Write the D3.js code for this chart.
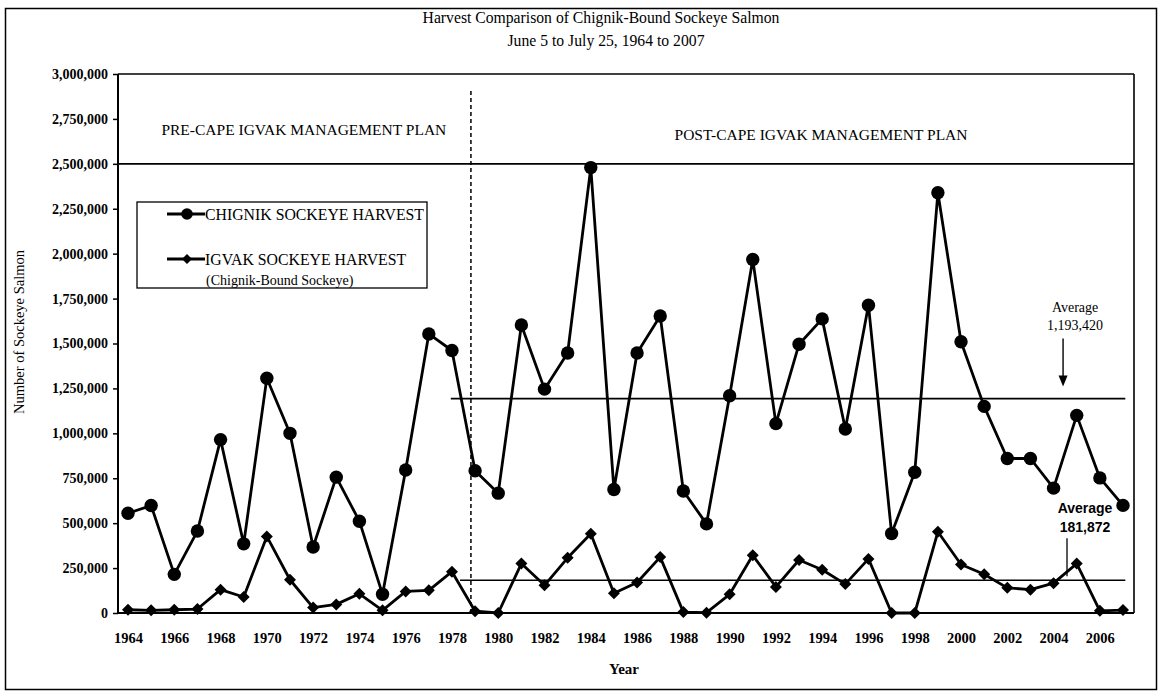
<!DOCTYPE html>
<html><head><meta charset="utf-8">
<script src="https://cdn.jsdelivr.net/npm/d3@7/dist/d3.min.js"></script>
<style>
body{margin:0;background:#fff;}
svg{display:block;}
text{font-family:"Liberation Serif","Times New Roman",serif;fill:#000;}
</style>
</head><body>
<svg id="c" width="1161" height="697"></svg>
<script>
// ---------- data ----------
const years = [1964,1965,1966,1967,1968,1969,1970,1971,1972,1973,1974,1975,1976,1977,1978,1979,1980,1981,1982,1983,1984,1985,1986,1987,1988,1989,1990,1991,1992,1993,1994,1995,1996,1997,1998,1999,2000,2001,2002,2003,2004,2005,2006,2007];
const chignikHarvest = [555000,598000,215000,456000,965000,385000,1307000,1000000,367000,756000,511000,104000,796000,1553000,1461000,792000,667000,1603000,1246000,1447000,2479000,687000,1447000,1653000,679000,496000,1209000,1968000,1054000,1496000,1637000,1024000,1713000,442000,783000,2339000,1510000,1150000,860000,860000,695000,1100000,752000,599000];
const igvakHarvest = [18000,15000,18000,22000,130000,89000,426000,185000,30000,48000,107000,15000,120000,126000,230000,10000,0,275000,154000,307000,441000,110000,170000,311000,5000,2000,104000,321000,145000,295000,241000,161000,301000,0,0,452000,270000,216000,140000,130000,166000,275000,12000,16000];
const yTickValues = [0,250000,500000,750000,1000000,1250000,1500000,1750000,2000000,2250000,2500000,2750000,3000000];
const xTickYears = [1964,1966,1968,1970,1972,1974,1976,1978,1980,1982,1984,1986,1988,1990,1992,1994,1996,1998,2000,2002,2004,2006];
const chignikAverage = 1193420;
const igvakAverage = 181872;
const referenceLevel = 2500000;
const planChangeYear = 1978.82;
const seriesNames = ["CHIGNIK SOCKEYE HARVEST", "IGVAK SOCKEYE HARVEST"];
const titleLines = ["Harvest Comparison of Chignik-Bound Sockeye Salmon", "June 5 to July 25, 1964 to 2007"];

// ---------- layout ----------
const L = 118, R = 1134, T = 74, B = 613;
const svg = d3.select("#c");
const x = d3.scaleLinear().domain([1964, 2007]).range([128, 1123]);
const y = d3.scaleLinear().domain([0, 3000000]).range([B, T]);

// outer border
svg.append("rect").attr("x", 5.5).attr("y", 8.5).attr("width", 1151).attr("height", 681)
  .attr("fill", "none").attr("stroke", "#000").attr("stroke-width", 1.5);

// titles
svg.append("text").attr("x", 601).attr("y", 23).attr("text-anchor", "middle")
  .style("font-size", "15.7px").text(titleLines[0]);
svg.append("text").attr("x", 606).attr("y", 46).attr("text-anchor", "middle")
  .style("font-size", "15.7px").text(titleLines[1]);

// plot frame
const frame = svg.append("g").attr("stroke", "#000").attr("fill", "none");
frame.append("line").attr("x1", L).attr("x2", R).attr("y1", T).attr("y2", T).attr("stroke-width", 1.6);
frame.append("line").attr("x1", R).attr("x2", R).attr("y1", T).attr("y2", B).attr("stroke-width", 1.6);
frame.append("line").attr("x1", L).attr("x2", R).attr("y1", B).attr("y2", B).attr("stroke-width", 2);

// y axis
const yAxis = svg.append("g").attr("transform", `translate(${L},0)`)
  .call(d3.axisLeft(y).tickValues(yTickValues).tickSize(5).tickPadding(5).tickFormat(d3.format(",")));
yAxis.select(".domain").attr("stroke-width", 2).attr("d", `M0,${T}V${B}`);
yAxis.selectAll(".tick line").attr("stroke-width", 1.5);
yAxis.selectAll("text").style("font-size", "14px").style("font-weight", "bold")
  .style("font-family", '"Liberation Serif",serif');

// x axis labels
const xAxis = svg.append("g").attr("transform", `translate(0,${B})`)
  .call(d3.axisBottom(x).tickValues(xTickYears).tickSize(0).tickPadding(20).tickFormat(d3.format("d")));
xAxis.select(".domain").remove();
xAxis.selectAll("text").style("font-size", "14.5px").style("font-weight", "bold")
  .style("font-family", '"Liberation Serif",serif');

// axis titles
svg.append("text").attr("transform", "translate(24,332) rotate(-90)")
  .attr("text-anchor", "middle").style("font-size", "14.5px").text("Number of Sockeye Salmon");
svg.append("text").attr("x", 624).attr("y", 674).attr("text-anchor", "middle")
  .style("font-size", "15px").style("font-weight", "bold").text("Year");

// 2.5M reference line
svg.append("line").attr("x1", L).attr("x2", R).attr("y1", y(referenceLevel)).attr("y2", y(referenceLevel))
  .attr("stroke", "#000").attr("stroke-width", 1.6);

// plan boundary
svg.append("line").attr("x1", x(planChangeYear)).attr("x2", x(planChangeYear))
  .attr("y1", 91).attr("y2", B).attr("stroke", "#000").attr("stroke-width", 1.5)
  .attr("stroke-dasharray", "4,3");

// section labels
svg.append("text").attr("x", x(1971.6)).attr("y", 135).attr("text-anchor", "middle")
  .style("font-size", "15.5px").text("PRE-CAPE IGVAK MANAGEMENT PLAN");
svg.append("text").attr("x", x(1993.95)).attr("y", 140).attr("text-anchor", "middle")
  .style("font-size", "15.5px").text("POST-CAPE IGVAK MANAGEMENT PLAN");

// average lines
svg.append("line").attr("x1", x(1977.95)).attr("x2", x(2007.1))
  .attr("y1", y(chignikAverage)).attr("y2", y(chignikAverage)).attr("stroke", "#000").attr("stroke-width", 1.6);
svg.append("line").attr("x1", x(1978.35)).attr("x2", x(2007.1))
  .attr("y1", y(igvakAverage)).attr("y2", y(igvakAverage)).attr("stroke", "#000").attr("stroke-width", 1.6);

// series
const line = d3.line().x((d, i) => x(years[i])).y(d => y(d));
svg.append("path").datum(igvakHarvest).attr("d", line).attr("fill", "none")
  .attr("stroke", "#000").attr("stroke-width", 2.8).attr("stroke-linejoin", "round");
svg.append("path").datum(chignikHarvest).attr("d", line).attr("fill", "none")
  .attr("stroke", "#000").attr("stroke-width", 2.8).attr("stroke-linejoin", "round");

const diamond = d3.symbol().type(d3.symbolSquare).size(72);
svg.append("g").selectAll("path").data(igvakHarvest).join("path")
  .attr("d", diamond)
  .attr("transform", (d, i) => `translate(${x(years[i])},${y(d)}) rotate(45)`)
  .attr("fill", "#000");
svg.append("g").selectAll("circle").data(chignikHarvest).join("circle")
  .attr("cx", (d, i) => x(years[i])).attr("cy", d => y(d)).attr("r", 6.7).attr("fill", "#000");

// legend
const lg = svg.append("g");
lg.append("rect").attr("x", 137).attr("y", 202).attr("width", 290).attr("height", 86)
  .attr("fill", "#fff").attr("stroke", "#000").attr("stroke-width", 1.3);
lg.append("line").attr("x1", 167).attr("x2", 205).attr("y1", 214).attr("y2", 214).attr("stroke", "#000").attr("stroke-width", 2.8);
lg.append("circle").attr("cx", 187).attr("cy", 214).attr("r", 5.8).attr("fill", "#000");
lg.append("text").attr("x", 205).attr("y", 219.5).style("font-size", "15.8px").text(seriesNames[0]);
lg.append("line").attr("x1", 167).attr("x2", 205).attr("y1", 259).attr("y2", 259).attr("stroke", "#000").attr("stroke-width", 2.8);
lg.append("path").attr("d", d3.symbol().type(d3.symbolSquare).size(50)).attr("transform", "translate(187,259) rotate(45)").attr("fill", "#000");
lg.append("text").attr("x", 205).attr("y", 264.5).style("font-size", "15.8px").text(seriesNames[1]);
lg.append("text").attr("x", 206).attr("y", 285).style("font-size", "14px").text("(Chignik-Bound Sockeye)");

// average annotations
const ax1 = x(2004.41), ay1 = y(chignikAverage);
const tx1 = ax1 + 12;
svg.append("text").attr("x", tx1).attr("y", ay1 - 87).attr("text-anchor", "middle")
  .style("font-size", "14px").text("Average");
svg.append("text").attr("x", tx1).attr("y", ay1 - 69).attr("text-anchor", "middle")
  .style("font-size", "14px").text(d3.format(",")(chignikAverage));
svg.append("line").attr("x1", ax1).attr("x2", ax1).attr("y1", ay1 - 60).attr("y2", ay1 - 20)
  .attr("stroke", "#000").attr("stroke-width", 1.4);
svg.append("path").attr("d", `M${ax1 - 4.5},${ay1 - 23}L${ax1 + 4.5},${ay1 - 23}L${ax1},${ay1 - 12}Z`).attr("fill", "#000");

const ax2 = x(2004.58), ay2 = y(igvakAverage);
const tx2 = x(2005.36);
svg.append("text").attr("x", tx2).attr("y", ay2 - 67).attr("text-anchor", "middle")
  .style("font-family", '"Liberation Sans",Arial,sans-serif').style("font-size", "14px").style("font-weight", "bold").text("Average");
svg.append("text").attr("x", tx2).attr("y", ay2 - 48).attr("text-anchor", "middle")
  .style("font-family", '"Liberation Sans",Arial,sans-serif').style("font-size", "14px").style("font-weight", "bold").text(d3.format(",")(igvakAverage));
svg.append("line").attr("x1", ax2).attr("x2", ax2).attr("y1", ay2 - 42).attr("y2", ay2 - 4)
  .attr("stroke", "#000").attr("stroke-width", 1.3);
</script>
</body></html>
